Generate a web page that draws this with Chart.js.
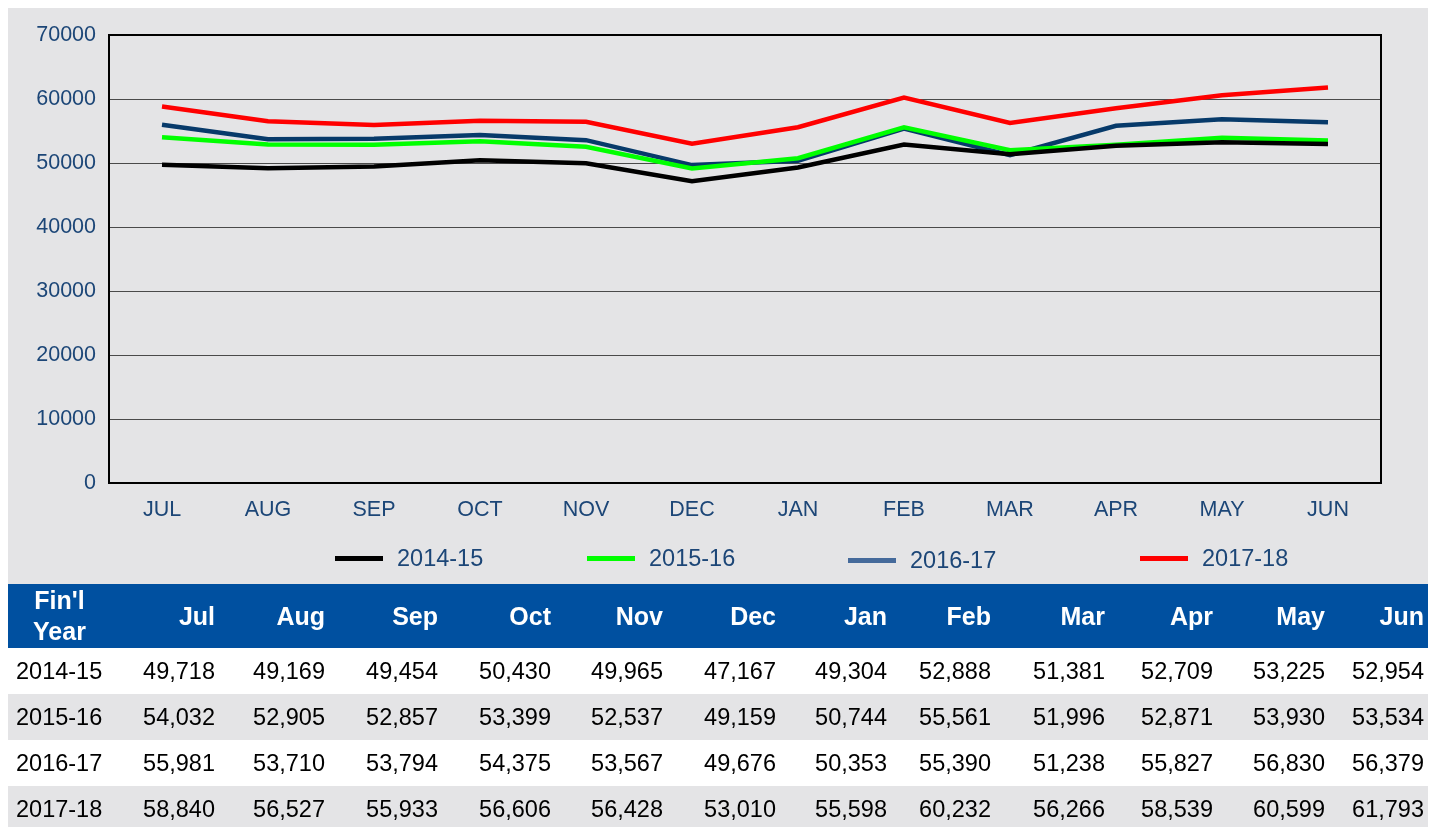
<!DOCTYPE html>
<html>
<head>
<meta charset="utf-8">
<script src="https://cdn.jsdelivr.net/npm/chart.js@4.4.1/dist/chart.umd.min.js"></script>
<style>
  body { margin: 0; background: #fff; font-family: "Liberation Sans", Arial, sans-serif; }
  #panel { position: absolute; left: 8px; top: 8px; width: 1420px; height: 576px; background: #e4e4e6; }
  #chart { position: absolute; left: 0; top: 0; }
  #legend { position: absolute; left: 0; top: 0; width: 1420px; height: 576px; pointer-events: none; }
  .lg { position: absolute; top: 537px; display: flex; align-items: center; font-size: 23.5px; color: #1c4677; }
  .lg span.sw { display: inline-block; width: 48px; height: 5px; margin-right: 14px; }
  #tbl { position: absolute; left: 8px; top: 584px; border-collapse: collapse; table-layout: fixed; width: 1420px; }
  #tbl th { background: #0050a0; color: #fff; font-weight: bold; font-size: 25px; height: 64px; padding: 0 4px 0 0; text-align: right; }
  #tbl th:first-child { text-align: center; padding: 0 0 0 4px; line-height: 31px; }
  #tbl td { font-size: 23.5px; color: #000; height: 46px; padding: 0 4px 0 0; text-align: right; }
  #tbl td:first-child { text-align: left; padding-left: 8px; }
  #tbl tr.alt td { background: #e4e4e6; }
</style>
</head>
<body>
<div id="panel">
  <canvas id="chart" width="1420" height="520"></canvas>
  <div id="legend"></div>
</div>
<table id="tbl"></table>
<script>
// === Data ===
const months = ["JUL", "AUG", "SEP", "OCT", "NOV", "DEC", "JAN", "FEB", "MAR", "APR", "MAY", "JUN"];
const monthHeads = ["Jul", "Aug", "Sep", "Oct", "Nov", "Dec", "Jan", "Feb", "Mar", "Apr", "May", "Jun"];
const years = ["2014-15", "2015-16", "2016-17", "2017-18"];

const fy2014 = [49718, 49169, 49454, 50430, 49965, 47167, 49304, 52888, 51381, 52709, 53225, 52954];
const fy2015 = [54032, 52905, 52857, 53399, 52537, 49159, 50744, 55561, 51996, 52871, 53930, 53534];
const fy2016 = [55981, 53710, 53794, 54375, 53567, 49676, 50353, 55390, 51238, 55827, 56830, 56379];
const fy2017 = [58840, 56527, 55933, 56606, 56428, 53010, 55598, 60232, 56266, 58539, 60599, 61793];

// === Styles ===
const lineColors = ["#000000", "#00ff00", "#073a6a", "#ff0000"];
const legendColors = ["#000000", "#00ff00", "#456a9b", "#ff0000"];
const legendX = [327, 579, 840, 1132];
const colWidths = [99, 112, 110, 113, 113, 112, 113, 111, 104, 114, 108, 112, 99];
const tickColor = "#1c4677";

const series = [fy2014, fy2015, fy2016, fy2017];

// frame round the plot area
const frame = {
  id: "frame",
  afterDraw(chart) {
    const a = chart.chartArea, c = chart.ctx;
    c.save();
    c.strokeStyle = "#000";
    c.lineWidth = 2;
    c.strokeRect(a.left, a.top, a.right - a.left, a.bottom - a.top);
    c.restore();
  }
};

new Chart(document.getElementById("chart"), {
  type: "line",
  data: {
    labels: months,
    datasets: series.map((vals, i) => ({
      label: years[i],
      data: vals,
      borderColor: lineColors[i],
      borderWidth: 4.5,
      pointRadius: 0,
      tension: 0,
      fill: false
    }))
  },
  options: {
    responsive: false,
    animation: false,
    layout: { padding: { left: 0, right: 47, top: 27, bottom: 0 } },
    plugins: { legend: { display: false }, tooltip: { enabled: false } },
    scales: {
      x: {
        offset: true,
        grid: { display: false },
        border: { display: false },
        ticks: { color: tickColor, font: { family: "Liberation Sans", size: 21.5 }, padding: 6, maxRotation: 0 },
        afterFit(s) { s.height = 45; }
      },
      y: {
        min: 0,
        max: 70000,
        grid: { color: "#4a4a4a", lineWidth: 1, drawTicks: false },
        border: { display: false },
        ticks: {
          stepSize: 10000,
          color: tickColor,
          font: { family: "Liberation Sans", size: 21.5 },
          padding: 13,
          callback: v => String(v)
        },
        afterFit(s) { s.width = 101; }
      }
    }
  },
  plugins: [frame]
});

// === Legend ===
const legend = document.getElementById("legend");
years.forEach((y, i) => {
  const d = document.createElement("div");
  d.className = "lg";
  d.style.left = legendX[i] + "px";
  if (i === 2) d.style.top = "539px";
  d.innerHTML = `<span class="sw" style="background:${legendColors[i]}"></span>${y}`;
  legend.appendChild(d);
});

// === Table ===
const tbl = document.getElementById("tbl");
let html = "<colgroup>" + colWidths.map(w => `<col style="width:${w}px">`).join("") + "</colgroup>";
html += "<tr><th>Fin'l<br>Year</th>" + monthHeads.map(m => `<th>${m}</th>`).join("") + "</tr>";
series.forEach((vals, i) => {
  html += `<tr class="${i % 2 ? "alt" : ""}"><td>${years[i]}</td>` +
    vals.map(v => `<td>${v.toLocaleString("en-US")}</td>`).join("") + "</tr>";
});
tbl.innerHTML = html;
</script>
</body>
</html>
